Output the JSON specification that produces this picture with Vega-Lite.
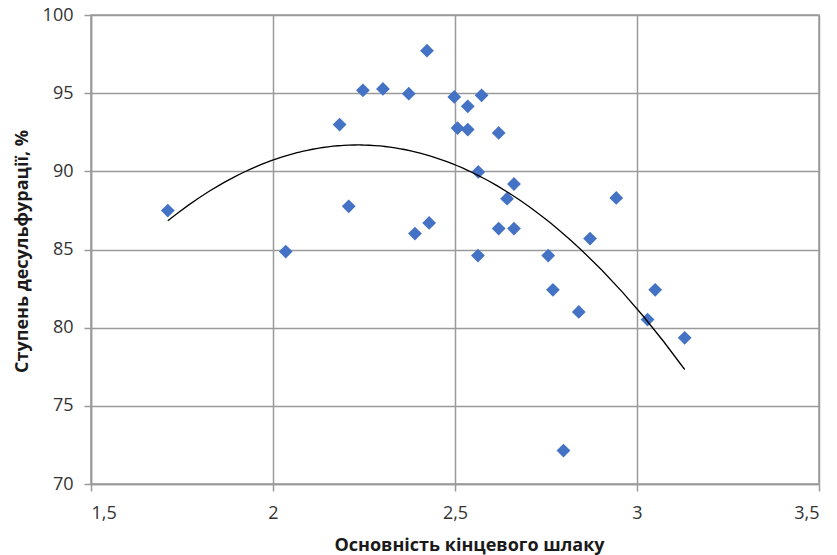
{
  "$schema": "https://vega.github.io/schema/vega-lite/v6.json",
  "width": 728,
  "height": 469,
  "autosize": {"type": "none"},
  "padding": {"left": 91, "top": 15, "right": 18, "bottom": 71},
  "background": "white",
  "config": {
    "view": {"stroke": "#9a9a9a", "strokeWidth": 1.5},
    "axis": {
      "gridColor": "#9a9a9a",
      "gridWidth": 1.5,
      "domainColor": "#9a9a9a",
      "domainWidth": 1.5,
      "tickColor": "#9a9a9a",
      "tickWidth": 1.5,
      "tickSize": 7,
      "labelFont": "Open Sans",
      "labelFontSize": 18,
      "labelColor": "#333333",
      "titleFont": "Open Sans",
      "titleFontSize": 18,
      "titleFontWeight": "bold",
      "titleColor": "#1a1a1a"
    }
  },
  "data": {
    "values": [
      {"basicity": 1.711, "desulf": 87.49},
      {"basicity": 2.035, "desulf": 84.87},
      {"basicity": 2.183, "desulf": 92.99},
      {"basicity": 2.208, "desulf": 87.76},
      {"basicity": 2.247, "desulf": 95.18},
      {"basicity": 2.302, "desulf": 95.27},
      {"basicity": 2.373, "desulf": 94.97},
      {"basicity": 2.39, "desulf": 86.02},
      {"basicity": 2.423, "desulf": 97.72},
      {"basicity": 2.429, "desulf": 86.7},
      {"basicity": 2.498, "desulf": 94.76},
      {"basicity": 2.507, "desulf": 92.77},
      {"basicity": 2.535, "desulf": 94.16},
      {"basicity": 2.535, "desulf": 92.67},
      {"basicity": 2.573, "desulf": 94.86},
      {"basicity": 2.564, "desulf": 89.96},
      {"basicity": 2.563, "desulf": 84.61},
      {"basicity": 2.62, "desulf": 92.46},
      {"basicity": 2.62, "desulf": 86.34},
      {"basicity": 2.643, "desulf": 88.25},
      {"basicity": 2.662, "desulf": 89.19},
      {"basicity": 2.662, "desulf": 86.34},
      {"basicity": 2.756, "desulf": 84.61},
      {"basicity": 2.769, "desulf": 82.42},
      {"basicity": 2.798, "desulf": 72.14},
      {"basicity": 2.84, "desulf": 81.01},
      {"basicity": 2.871, "desulf": 85.7},
      {"basicity": 2.943, "desulf": 88.3},
      {"basicity": 3.029, "desulf": 80.52},
      {"basicity": 3.05, "desulf": 82.42},
      {"basicity": 3.131, "desulf": 79.35}
    ]
  },
  "encoding": {
    "x": {
      "field": "basicity",
      "type": "quantitative",
      "scale": {"domain": [1.5, 3.5], "nice": false, "zero": false},
      "axis": {
        "title": "Основність кінцевого шлаку",
        "values": [1.5, 2, 2.5, 3, 3.5],
        "labelExpr": "replace(toString(datum.value), '.', ',')",
        "labelPadding": 13,
        "titleX": 378,
        "titleY": 61,
        "titleAnchor": null,
        "titleAlign": "center",
        "titleBaseline": "middle"
      }
    },
    "y": {
      "field": "desulf",
      "type": "quantitative",
      "scale": {"domain": [70, 100], "nice": false, "zero": false},
      "axis": {
        "title": "Ступень десульфурації, %",
        "values": [70, 75, 80, 85, 90, 95, 100],
        "labelPadding": 11,
        "titleX": -69,
        "titleY": 236,
        "titleAngle": -90,
        "titleAlign": "center",
        "titleBaseline": "middle"
      }
    }
  },
  "layer": [
    {
      "mark": {"type": "point", "shape": "diamond", "filled": true, "size": 190, "color": "#4472c4", "opacity": 1}
    },
    {
      "transform": [
        {"regression": "desulf", "on": "basicity", "method": "poly", "order": 2}
      ],
      "mark": {"type": "line", "color": "#000000", "strokeWidth": 1.3}
    }
  ]
}
